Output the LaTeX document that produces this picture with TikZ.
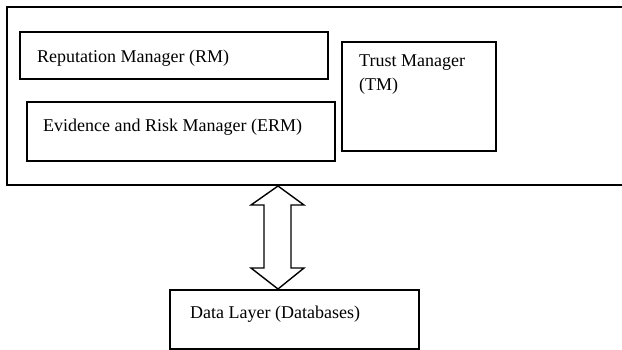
\documentclass[tikz,border=0pt]{standalone}
\usepackage{fontspec}
\setmainfont{Liberation Serif}
\usetikzlibrary{positioning}

\begin{document}
\begin{tikzpicture}[
    x = 1pt, y = -1pt,
    line join = miter,
    box/.style = {draw, line width=1.6pt, rectangle, anchor=north west, inner sep=0pt},
    txt/.style = {anchor=west, inner sep=0pt, font=\fontsize{18}{22}\selectfont},
    arr/.style = {line width=1.4pt, fill=white}
]

\useasboundingbox (0, 0) rectangle (622, 349);

% outer frame (runs off the right edge)
\coordinate (sysNW) at (7, 7);
\coordinate (sysSW) at (7, 185);
\draw[line width=1.6pt] (622, 7) -- (sysNW) -- (sysSW) -- (622, 185);

\node[box, minimum width=308, minimum height=47] (rm) at (19, 31) {};
\node[box, minimum width=308, minimum height=59] (erm) at (26, 101) {};
\node[box, minimum width=154, minimum height=109] (tm) at (341, 41) {};
\node[box, minimum width=249, minimum height=59] (db) at (169, 289) {};

\node[txt] (rmtext) at (37, 58) {Reputation Manager (RM)};
\node[txt] (ermtext) at (43, 127) {Evidence and Risk Manager (ERM)};
\node[txt, align=left, anchor=north west] (tmtext) at (359, 55) {Trust Manager\\[2pt](TM)};
\node[txt] (dbtext) at (190, 314) {Data Layer (Databases)};

% double arrow between frame and data layer
\coordinate (up) at (278, 186);
\coordinate (dn) at (db.north -| up);
\draw[arr] (up) --++ (26, 19) --++ (-13, 0) --++ (0, 63) --++ (13, 0) -- (dn)
    --++ (-27, -21) --++ (13, 0) --++ (0, -63) --++ (-13, 0) -- cycle;

\end{tikzpicture}
\end{document}
